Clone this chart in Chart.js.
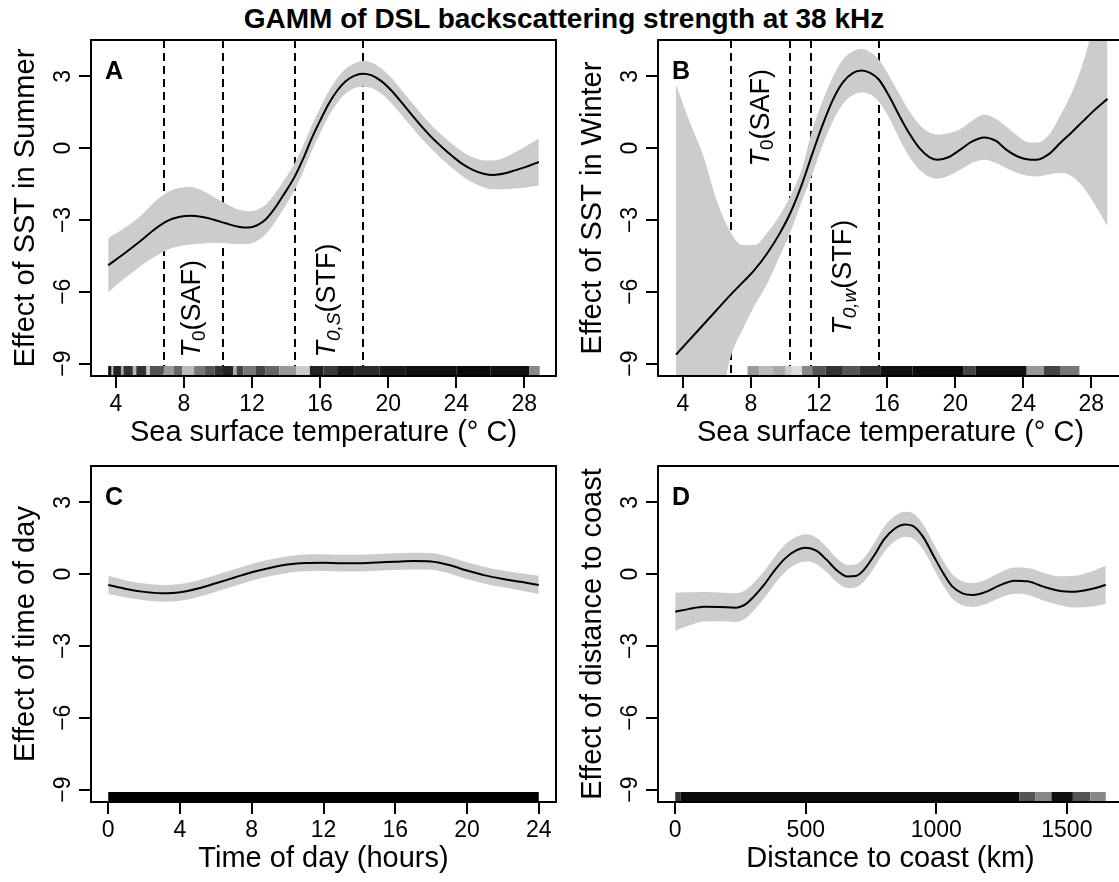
<!DOCTYPE html>
<html>
<head>
<meta charset="utf-8">
<script src="https://cdn.jsdelivr.net/npm/chart.js@4.4.1/dist/chart.umd.min.js"></script>
<style>
  html, body { margin: 0; padding: 0; background: #fff; overflow: hidden; width: 1119px; height: 882px; }
  #title { position: absolute; left: 0; top: 5px; width: 1128px; text-align: center;
           font: bold 28px 'Liberation Sans', Arial, sans-serif; line-height: 28px; color: #000; }
  .panel { position: absolute; }
</style>
</head>
<body>
<div id="title">GAMM of DSL backscattering strength at 38 kHz</div>
<div class="panel" style="left:0px;top:30px"><canvas id="cA" width="560" height="420"></canvas></div>
<div class="panel" style="left:567px;top:30px"><canvas id="cB" width="572" height="420"></canvas></div>
<div class="panel" style="left:0px;top:456px"><canvas id="cC" width="560" height="420"></canvas></div>
<div class="panel" style="left:567px;top:456px"><canvas id="cD" width="572" height="420"></canvas></div>
<script>
// ---------------------------------------------------------------------
// Data
// ---------------------------------------------------------------------

const yTicks = [-9, -6, -3, 0, 3];
const yTickLabels = ['\u22129', '\u22126', '\u22123', '0', '3'];
const sstTicks = [4, 8, 12, 16, 20, 24, 28];
const hourTicks = [0, 4, 8, 12, 16, 20, 24];
const distTicks = [0, 500, 1000, 1500];

// A: SST in summer
const sstA = [3.55, 4.5, 5.5, 6.3, 7.0, 7.7, 8.4, 9.1, 9.8, 10.5, 11.2, 11.8, 12.3, 12.8, 13.3, 13.9,
              14.5, 15.0, 15.5, 16.0, 16.5, 17.0, 17.5, 18.0, 18.5, 19.0, 19.6, 20.2, 20.8, 21.4,
              22.0, 22.6, 23.2, 23.8, 24.4, 25.0, 25.6, 26.2, 26.8, 27.4, 28.1, 28.85];
const fitA = [-4.89, -4.40, -3.85, -3.38, -3.05, -2.88, -2.82, -2.88, -3.00, -3.15, -3.28, -3.32, -3.22,
              -2.98, -2.55, -1.90, -1.20, -0.45, 0.40, 1.15, 1.85, 2.40, 2.80, 3.02, 3.11, 3.05, 2.80,
              2.40, 1.90, 1.38, 0.88, 0.42, 0.02, -0.35, -0.68, -0.92, -1.07, -1.12, -1.06, -0.94, -0.78, -0.58];
const upperA = [-3.76, -3.34, -2.80, -2.23, -1.85, -1.66, -1.62, -1.78, -2.05, -2.33, -2.56, -2.64, -2.57,
                -2.36, -1.95, -1.32, -0.64, 0.10, 0.94, 1.68, 2.37, 2.92, 3.32, 3.54, 3.64, 3.58, 3.33,
                2.93, 2.42, 1.90, 1.39, 0.92, 0.52, 0.15, -0.17, -0.39, -0.51, -0.52, -0.40, -0.19, 0.08, 0.40];
const lowerA = [-6.02, -5.45, -4.90, -4.53, -4.25, -4.10, -4.02, -3.98, -3.95, -3.97, -4.00, -4.00, -3.87,
                -3.60, -3.15, -2.48, -1.76, -1.00, -0.14, 0.62, 1.33, 1.88, 2.28, 2.50, 2.58, 2.52, 2.27,
                1.87, 1.38, 0.86, 0.37, -0.08, -0.48, -0.85, -1.19, -1.45, -1.63, -1.72, -1.72, -1.69, -1.64, -1.56];
const frontsA = [6.8, 10.3, 14.5, 18.5];
const rugA = [
  [3.55, 3.75, '#111'], [3.75, 3.85, '#bbb'], [3.85, 4.3, '#222'], [4.3, 4.45, '#aaa'], [4.45, 5.0, '#333'],
  [5.0, 5.2, '#bbb'], [5.2, 5.8, '#333'], [5.8, 6.0, '#ccc'], [6.0, 6.8, '#555'], [6.8, 7.4, '#999'],
  [7.4, 7.9, '#666'], [7.9, 8.6, '#bbb'], [8.6, 9.2, '#777'], [9.2, 9.8, '#555'], [9.8, 10.3, '#333'],
  [10.3, 10.9, '#222'], [10.9, 11.1, '#aaa'], [11.1, 11.5, '#444'], [11.5, 12.2, '#777'], [12.2, 12.8, '#444'],
  [12.8, 13.6, '#666'], [13.6, 14.6, '#999'], [14.6, 15.4, '#ccc'], [15.4, 16.2, '#222'], [16.2, 17.0, '#3a3a3a'],
  [17.0, 18.0, '#1a1a1a'], [18.0, 19.5, '#2a2a2a'], [19.5, 21.0, '#1a1a1a'], [21.0, 24.0, '#111'],
  [24.0, 26.0, '#0a0a0a'], [26.0, 28.3, '#111'], [28.3, 28.9, '#888']
];

// B: SST in winter
const sstB = [3.6, 4.4, 5.2, 6.0, 6.8, 7.5, 8.2, 9.0, 9.7, 10.3, 11.0, 11.6, 12.2, 12.8, 13.4, 14.0, 14.5,
              15.0, 15.5, 16.1, 16.7, 17.3, 17.9, 18.5, 19.0, 19.6, 20.3, 21.0, 21.7, 22.4, 23.0, 23.7,
              24.3, 24.8, 25.5, 26.2, 26.9, 27.5, 28.2, 28.95];
const fitB = [-8.63, -8.00, -7.38, -6.75, -6.13, -5.62, -5.10, -4.35, -3.55, -2.73, -1.50, -0.25, 0.95,
              2.00, 2.75, 3.15, 3.25, 3.15, 2.88, 2.20, 1.38, 0.62, 0.00, -0.38, -0.48, -0.38, -0.06,
              0.28, 0.45, 0.30, -0.06, -0.36, -0.47, -0.48, -0.25, 0.24, 0.70, 1.12, 1.60, 2.06];
const upperB = [2.65, 1.10, -0.32, -2.20, -3.50, -4.05, -4.05, -3.50, -2.80, -2.02, -0.85, 0.75, 1.95,
                2.95, 3.70, 4.05, 4.14, 4.02, 3.72, 3.05, 2.28, 1.55, 0.98, 0.65, 0.56, 0.62, 0.80,
                1.15, 1.40, 1.22, 0.91, 0.50, 0.25, 0.24, 0.55, 1.40, 2.40, 3.55, 5.30, 7.40];
const lowerB = [-19.9, -17.1, -14.4, -11.5, -8.76, -7.60, -6.60, -5.60, -4.50, -3.55, -2.20, -1.10, 0.10,
                1.10, 1.85, 2.22, 2.33, 2.25, 1.95, 1.30, 0.42, -0.35, -0.90, -1.20, -1.27, -1.15, -0.90,
                -0.62, -0.48, -0.62, -0.83, -1.05, -1.15, -1.18, -1.10, -1.03, -1.20, -1.60, -2.35, -3.27];
const frontsB = [6.8, 10.3, 11.5, 15.5];
const rugB = [
  [7.8, 8.5, '#999'], [8.5, 9.3, '#bbb'], [9.3, 10.0, '#aaa'], [10.0, 10.4, '#ccc'], [10.4, 11.0, '#ddd'],
  [11.0, 11.6, '#888'], [11.6, 12.4, '#555'], [12.4, 13.4, '#333'], [13.4, 14.4, '#555'], [14.4, 15.6, '#333'],
  [15.6, 17.5, '#111'], [17.5, 20.5, '#0a0a0a'], [20.5, 21.2, '#444'], [21.2, 24.2, '#111'], [24.2, 25.2, '#999'],
  [25.2, 26.2, '#444'], [26.2, 27.3, '#777']
];

// C: time of day
const hourC = [0, 1, 2, 3, 4, 5, 6, 7, 8, 9, 10, 11, 12, 13, 14, 15, 16, 17, 18, 19, 20, 21, 22, 23, 24];
const fitC = [-0.45, -0.62, -0.74, -0.80, -0.76, -0.60, -0.38, -0.15, 0.08, 0.26, 0.40, 0.47, 0.48,
              0.46, 0.46, 0.49, 0.52, 0.55, 0.53, 0.38, 0.15, -0.05, -0.20, -0.32, -0.45];
const upperC = [-0.07, -0.26, -0.39, -0.45, -0.41, -0.25, -0.03, 0.20, 0.43, 0.61, 0.75, 0.82, 0.83,
                0.81, 0.81, 0.84, 0.87, 0.90, 0.88, 0.73, 0.50, 0.30, 0.15, 0.04, -0.07];
const lowerC = [-0.83, -0.98, -1.09, -1.15, -1.11, -0.95, -0.73, -0.50, -0.27, -0.09, 0.05, 0.12, 0.13,
                0.11, 0.11, 0.14, 0.17, 0.20, 0.18, 0.03, -0.20, -0.40, -0.55, -0.68, -0.83];
const rugC = [[0, 24, '#000']];

// D: distance to coast
const distD = [0, 50, 110, 170, 230, 270, 300, 340, 380, 420, 460, 500, 540, 580, 620, 660, 690, 720, 760,
               800, 840, 880, 910, 950, 990, 1030, 1060, 1100, 1140, 1190, 1240, 1300, 1350, 1410, 1470,
               1530, 1590, 1649];
const fitD = [-1.57, -1.46, -1.36, -1.37, -1.40, -1.25, -0.95, -0.45, 0.15, 0.65, 0.97, 1.10, 0.98, 0.60,
              0.15, -0.10, -0.08, 0.15, 0.75, 1.45, 1.90, 2.08, 2.02, 1.55, 0.75, -0.02, -0.50, -0.80,
              -0.87, -0.74, -0.48, -0.27, -0.30, -0.52, -0.69, -0.73, -0.63, -0.45];
const upperD = [-0.78, -0.76, -0.74, -0.77, -0.80, -0.66, -0.37, 0.12, 0.72, 1.22, 1.54, 1.67, 1.53, 1.12,
                0.65, 0.38, 0.40, 0.64, 1.26, 1.97, 2.43, 2.61, 2.55, 2.08, 1.27, 0.50, 0.01, -0.30,
                -0.37, -0.23, 0.05, 0.28, 0.26, 0.06, -0.09, -0.07, 0.10, 0.35];
const lowerD = [-2.36, -2.16, -1.98, -1.97, -2.00, -1.84, -1.53, -1.02, -0.42, 0.08, 0.40, 0.53, 0.43, 0.08,
                -0.35, -0.58, -0.56, -0.34, 0.24, 0.93, 1.37, 1.55, 1.49, 1.02, 0.23, -0.54, -1.01, -1.30,
                -1.37, -1.25, -1.01, -0.82, -0.86, -1.10, -1.29, -1.39, -1.36, -1.25];
const rugD = [
  [0, 20, '#333'], [20, 1318, '#0a0a0a'], [1318, 1380, '#555'], [1380, 1441, '#888'],
  [1441, 1523, '#111'], [1523, 1590, '#555'], [1590, 1649, '#888']
];

// Front annotations: anchor (x, y) in data units, text pieces
const notesA = [
  { x: 8.5, y: -8.75, parts: [['T', 'italic'], ['0', 'sub'], ['(SAF)', '']] },
  { x: 16.45, y: -8.75, parts: [['T', 'italic'], ['0,S', 'subitalic'], ['(STF)', '']] }
];
const notesB = [
  { x: 8.6, y: -0.77, parts: [['T', 'italic'], ['0', 'sub'], ['(SAF)', '']] },
  { x: 13.45, y: -7.8, parts: [['T', 'italic'], ['0,w', 'subitalic'], ['(STF)', '']] }
];

// ---------------------------------------------------------------------
// Drawing helpers
// ---------------------------------------------------------------------

const FONT = "'Liberation Sans', Arial, Helvetica, sans-serif";
Chart.defaults.font.family = FONT;
Chart.defaults.color = '#000';

function decoPlugin(p) {
    return {
        id: 'deco',
        beforeDatasetsDraw(chart) {
            // vertical dashed front lines (under the confidence band)
            const { ctx, chartArea: a, scales: { x } } = chart;
            if (!p.fronts) return;
            ctx.save();
            ctx.strokeStyle = '#000';
            ctx.lineWidth = 2;
            ctx.setLineDash([8, 5]);
            p.fronts.forEach(v => {
                const px = Math.round(x.getPixelForValue(v));
                ctx.beginPath();
                ctx.moveTo(px, a.top);
                ctx.lineTo(px, a.bottom);
                ctx.stroke();
            });
            ctx.restore();
        },
        afterDatasetsDraw(chart) {
            const { ctx, chartArea: a, scales: { x, y } } = chart;
            ctx.save();

            // rug along the bottom
            p.rug.forEach(([x0, x1, col]) => {
                const p0 = x.getPixelForValue(x0);
                const p1 = x.getPixelForValue(x1);
                ctx.fillStyle = col;
                ctx.fillRect(p0, a.bottom - 10, p1 - p0, 10);
            });

            // frame around the plot region
            ctx.strokeStyle = '#000';
            ctx.lineWidth = 2;
            ctx.strokeRect(a.left, a.top, a.right - a.left, a.bottom - a.top);

            // y tick labels, parallel to the axis
            ctx.fillStyle = '#000';
            ctx.font = '23px ' + FONT;
            ctx.textAlign = 'center';
            ctx.textBaseline = 'alphabetic';
            yTicks.forEach((v, i) => {
                ctx.save();
                ctx.translate(a.left - 21, y.getPixelForValue(v));
                ctx.rotate(-Math.PI / 2);
                ctx.fillText(yTickLabels[i], 0, 0);
                ctx.restore();
            });

            // panel letter
            ctx.font = 'bold 25px ' + FONT;
            ctx.textAlign = 'left';
            ctx.fillText(p.letter, a.left + 14, a.top + 39);

            // rotated front labels
            (p.notes || []).forEach(n => {
                ctx.save();
                ctx.translate(x.getPixelForValue(n.x), y.getPixelForValue(n.y));
                ctx.rotate(-Math.PI / 2);
                ctx.textBaseline = 'middle';
                let cx = 0;
                n.parts.forEach(([t, style]) => {
                    let size = 27, dy = 0, ital = '';
                    if (style === 'italic') ital = 'italic ';
                    if (style === 'sub' || style === 'subitalic') { size = 19; dy = 7; }
                    if (style === 'subitalic') ital = 'italic ';
                    ctx.font = ital + size + 'px ' + FONT;
                    ctx.fillText(t, cx, dy);
                    cx += ctx.measureText(t).width;
                });
                ctx.restore();
            });
            ctx.restore();
        }
    };
}

function makePanel(id, p) {
    const pts = (xs, ys) => xs.map((v, i) => ({ x: v, y: ys[i] }));
    return new Chart(document.getElementById(id), {
        type: 'line',
        data: {
            // index 0 is painted last (on top)
            datasets: [
                { data: pts(p.x, p.fit), borderColor: '#000', borderWidth: 2, pointRadius: 0, fill: false },
                { data: pts(p.x, p.lower), borderWidth: 0, pointRadius: 0, fill: false },
                { data: pts(p.x, p.upper), borderWidth: 0, pointRadius: 0, fill: '-1', backgroundColor: '#cccccc' }
            ]
        },
        options: {
            responsive: false,
            animation: false,
            events: [],
            layout: { padding: { left: 0, right: p.padRight, top: 10, bottom: 0 } },
            elements: { line: { cubicInterpolationMode: 'monotone' } },
            plugins: { legend: { display: false }, tooltip: { enabled: false } },
            scales: {
                x: {
                    type: 'linear',
                    min: p.xMin,
                    max: p.xMax,
                    afterBuildTicks: s => { s.ticks = p.xTicks.map(v => ({ value: v })); },
                    afterFit: s => { s.height = 74; },
                    border: { display: false },
                    grid: { drawOnChartArea: false, drawTicks: true, tickLength: 12, color: '#000', lineWidth: 2 },
                    ticks: {
                        autoSkip: false, maxRotation: 0, padding: 3,
                        font: { size: 23 }, color: '#000',
                        callback: v => String(v)
                    },
                    title: { display: true, text: p.xTitle, font: { size: 29 }, color: '#000', padding: { top: 0, bottom: 0 } }
                },
                y: {
                    min: -9.52,
                    max: 4.52,
                    afterBuildTicks: s => { s.ticks = yTicks.map(v => ({ value: v })); },
                    afterFit: s => { s.width = 91; },
                    border: { display: false },
                    grid: { drawOnChartArea: false, drawTicks: true, tickLength: 12, color: '#000', lineWidth: 2 },
                    ticks: { display: false },
                    title: { display: true, text: p.yTitle, font: { size: 29 }, color: '#000', padding: { top: 9, bottom: 0 } }
                }
            }
        },
        plugins: [decoPlugin(p)]
    });
}

// ---------------------------------------------------------------------
// Panels
// ---------------------------------------------------------------------

makePanel('cA', {
    x: sstA, fit: fitA, upper: upperA, lower: lowerA,
    xMin: 2.54, xMax: 29.86, xTicks: sstTicks, padRight: 4,
    xTitle: 'Sea surface temperature (\u00b0 C)', yTitle: 'Effect of SST in Summer',
    letter: 'A', fronts: frontsA, notes: notesA, rug: rugA
});

makePanel('cB', {
    x: sstB, fit: fitB, upper: upperB, lower: lowerB,
    xMin: 2.54, xMax: 29.86, xTicks: sstTicks, padRight: 16,
    xTitle: 'Sea surface temperature (\u00b0 C)', yTitle: 'Effect of SST in Winter',
    letter: 'B', fronts: frontsB, notes: notesB, rug: rugB
});

makePanel('cC', {
    x: hourC, fit: fitC, upper: upperC, lower: lowerC,
    xMin: -0.96, xMax: 24.96, xTicks: hourTicks, padRight: 4,
    xTitle: 'Time of day (hours)', yTitle: 'Effect of time of day',
    letter: 'C', rug: rugC
});

makePanel('cD', {
    x: distD, fit: fitD, upper: upperD, lower: lowerD,
    xMin: -66, xMax: 1715, xTicks: distTicks, padRight: 16,
    xTitle: 'Distance to coast (km)', yTitle: 'Effect of distance to coast',
    letter: 'D', rug: rugD
});
</script>
</body>
</html>
